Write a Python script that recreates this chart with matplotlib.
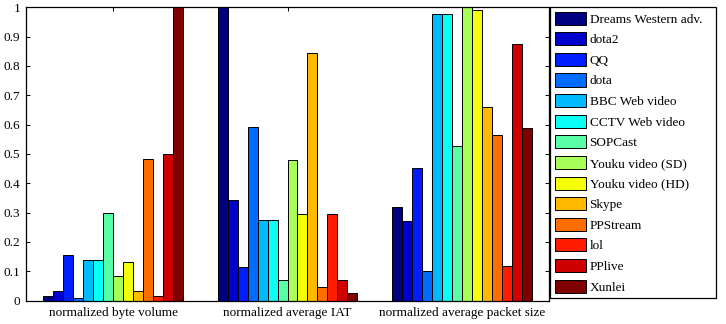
import numpy as np
import matplotlib
matplotlib.use("Agg")
from matplotlib import pyplot as plt

plt.rcParams['font.family'] = ['Liberation Serif', 'DejaVu Serif']
plt.rcParams['font.size'] = 9.5

groups = ['normalized byte volume', 'normalized average IAT', 'normalized average packet size']
apps = ['Dreams Western adv.', 'dota2', 'QQ', 'dota', 'BBC Web video', 'CCTV Web video',
        'SOPCast', 'Youku video (SD)', 'Youku video (HD)', 'Skype', 'PPStream', 'lol',
        'PPlive', 'Xunlei']

byte_volume = [0.015, 0.031, 0.155, 0.008, 0.137, 0.137, 0.299, 0.083, 0.131, 0.032,
               0.483, 0.016, 0.498, 1.0]
avg_iat = [1.0, 0.342, 0.115, 0.592, 0.274, 0.274, 0.069, 0.478, 0.295, 0.843,
           0.047, 0.295, 0.069, 0.024]
avg_pkt_size = [0.318, 0.270, 0.452, 0.100, 0.978, 0.978, 0.526, 1.0, 0.99, 0.661,
                0.566, 0.117, 0.876, 0.589]

data = np.array([byte_volume, avg_iat, avg_pkt_size])  # groups x apps

# matlab style jet
t = np.linspace(0, 1, len(apps))
colors = np.column_stack([np.clip(1.5 - np.abs(4*t - 3), 0, 1),
                          np.clip(1.5 - np.abs(4*t - 2), 0, 1),
                          np.clip(1.5 - np.abs(4*t - 1), 0, 1)])

fig = plt.figure(figsize=(7.26, 3.24), dpi=100)
ax = fig.add_axes([26/726, 1 - 300.5/324, (549 - 26)/726, (300.5 - 7.3)/324])

x = np.arange(1, len(groups) + 1)
w = 0.8 / len(apps)
for i, app in enumerate(apps):
    off = (i - (len(apps) - 1) / 2) * w
    ax.bar(x + off, data[:, i], width=w, color=colors[i], edgecolor='black',
           linewidth=0.7, label=app)

ax.set_xlim(0.5, 3.5)
ax.set_ylim(0, 1)
ax.set_xticks(x)
ax.set_xticklabels(groups)
ax.set_yticks(np.arange(0, 1.01, 0.1))
ax.set_yticklabels(['0', '0.1', '0.2', '0.3', '0.4', '0.5', '0.6', '0.7', '0.8', '0.9', '1'])
ax.tick_params(direction='in', top=True, right=True, length=3, width=0.7)
ax.tick_params(axis='y', pad=4)
ax.tick_params(axis='x', pad=5)
for s in ax.spines.values():
    s.set_linewidth(0.9)

leg = fig.legend(loc='upper left', bbox_to_anchor=(550/726, 1 - 299/324, 166/726, 292/324),
                 bbox_transform=fig.transFigure, mode='expand', borderaxespad=0,
                 fancybox=False, edgecolor='black', framealpha=1, handlelength=2.4,
                 handleheight=1.15, handletextpad=0.25, labelspacing=0.5, borderpad=0.35)
leg.get_frame().set_linewidth(0.9)

fig.savefig('out.png', dpi=100)
